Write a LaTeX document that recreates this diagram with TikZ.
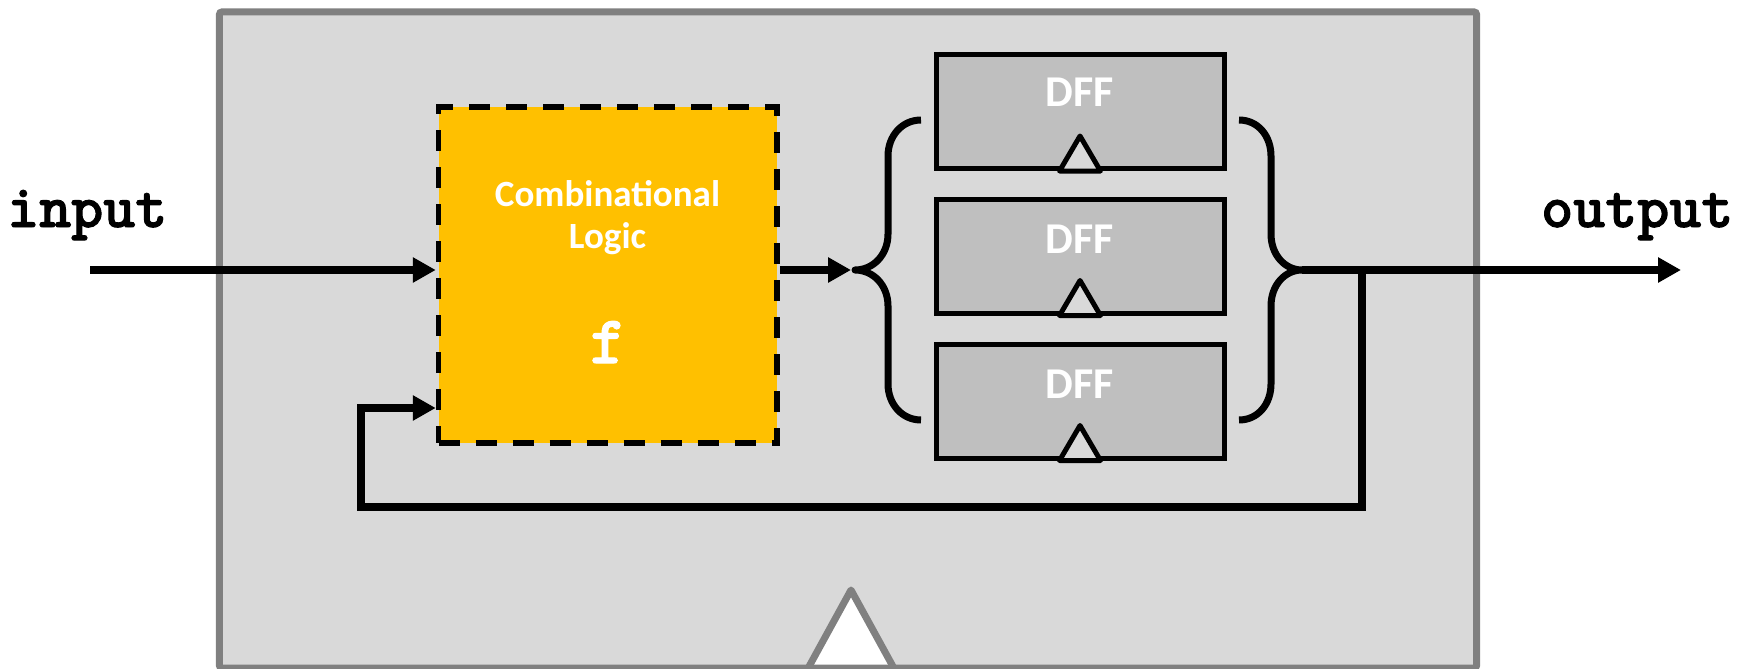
\documentclass[tikz,border=0pt]{standalone}
\usepackage{fontspec}
\setmainfont{Carlito}
\newfontfamily\courb{lmmonolt10-bold.otf}[FakeBold=1.6]
\usetikzlibrary{arrows.meta}
\definecolor{bgray}{HTML}{D9D9D9}
\definecolor{bord}{HTML}{808080}
\definecolor{dffgray}{HTML}{BFBFBF}
\definecolor{combyel}{HTML}{FFC000}
\begin{document}
\begin{tikzpicture}[x=1pt,y=-1pt,
  wire/.style={line width=7.5pt},
  arr/.style={wire,-{Triangle[length=23pt,width=24pt]}},
  dffbox/.style={draw=black,line width=5pt,fill=dffgray,minimum width=288pt,minimum height=114pt,inner sep=0pt},
  dfflabel/.style={text=white,font=\fontsize{44}{50}\selectfont\bfseries,anchor=base,inner sep=0pt},
  clk/.style={draw=black,fill=bgray,line width=5pt,line join=round},
  brace/.style={line width=7pt,line join=round},
  codelabel/.style={font=\courb\fontsize{61}{66}\selectfont,anchor=base west,inner sep=0pt},
]
\useasboundingbox (0,0) rectangle (1754,669);
% system box
\node[fill=bgray,minimum width=1257pt,minimum height=656pt,inner sep=0pt] (sys) at (848,340) {};
\draw[fill=white,draw=bord,line width=7pt,line join=round] (806,672) -- (851,590) -- (896,672);
\draw[draw=bord,line width=7pt,rounded corners=3pt] (sys.south west) rectangle (sys.north east);
% combinational logic
\node[fill=combyel,draw=black,line width=5.5pt,dash pattern=on 21pt off 16pt,minimum width=338.5pt,minimum height=336pt,inner sep=0pt] (comb) at (607.75,275) {};
\node[text=white,font=\fontsize{37}{42}\selectfont\bfseries,align=center,inner sep=0pt] (cltext) at (607.5,218) {Combinational\\Logic};
\node[text=white,font=\courb\fontsize{68}{72}\selectfont,anchor=base,inner sep=0pt] (fn) at (608,363) {f};
% DFFs
\node[dffbox] (d1) at (1080,111.5) {};
\node[dffbox] (d2) at (1080,256) {};
\node[dffbox] (d3) at (1080,401) {};
\foreach \n in {d1,d2,d3}{
  \draw[clk] ([xshift=-20.5pt]\n.south) -- ([yshift=35pt]\n.south) -- ([xshift=20.5pt]\n.south) -- cycle;
}
\node[dfflabel] (l1) at (1080,106.7) {DFF};
\node[dfflabel] (l2) at (1080,253.8) {DFF};
\node[dfflabel] (l3) at (1080,398.9) {DFF};
% braces
\coordinate (ltip) at (855,270);
\coordinate (rtip) at (1302,270);
\draw[brace] (921,120) .. controls (902,120) and (888,136) .. (888,156) -- (888,234)
  .. controls (888,255) and (873,270) .. (ltip)
  .. controls (873,270) and (888,285) .. (888,306) -- (888,384)
  .. controls (888,404) and (902,420) .. (921,420);
\draw[brace] (1239,120) .. controls (1258,120) and (1271,136) .. (1271,156) -- (1271,234)
  .. controls (1271,255) and (1285,270) .. (rtip)
  .. controls (1285,270) and (1271,285) .. (1271,306) -- (1271,384)
  .. controls (1271,404) and (1258,420) .. (1239,420);
% labels
\node[codelabel] (inlab) at (7,227) {input};
\node[codelabel] (outlab) at (1541,227) {output};
% wires
\coordinate (instart) at (90,270);
\coordinate (outend) at (1681,270);
\coordinate (branch) at (1362,270);
\coordinate (fbc1) at (1362,507);
\coordinate (fbc2) at (361,507);
\coordinate (fbc3) at (361,408);
\draw[arr] (instart) -- (comb.west |- instart);
\draw[arr] (comb.east |- ltip) -- ([xshift=-4pt]ltip);
\draw[arr] (rtip) -- (outend);
\draw[arr] (branch) -- (fbc1) -- (fbc2) -- (fbc3) -- (comb.west |- fbc3);
\end{tikzpicture}
\end{document}
